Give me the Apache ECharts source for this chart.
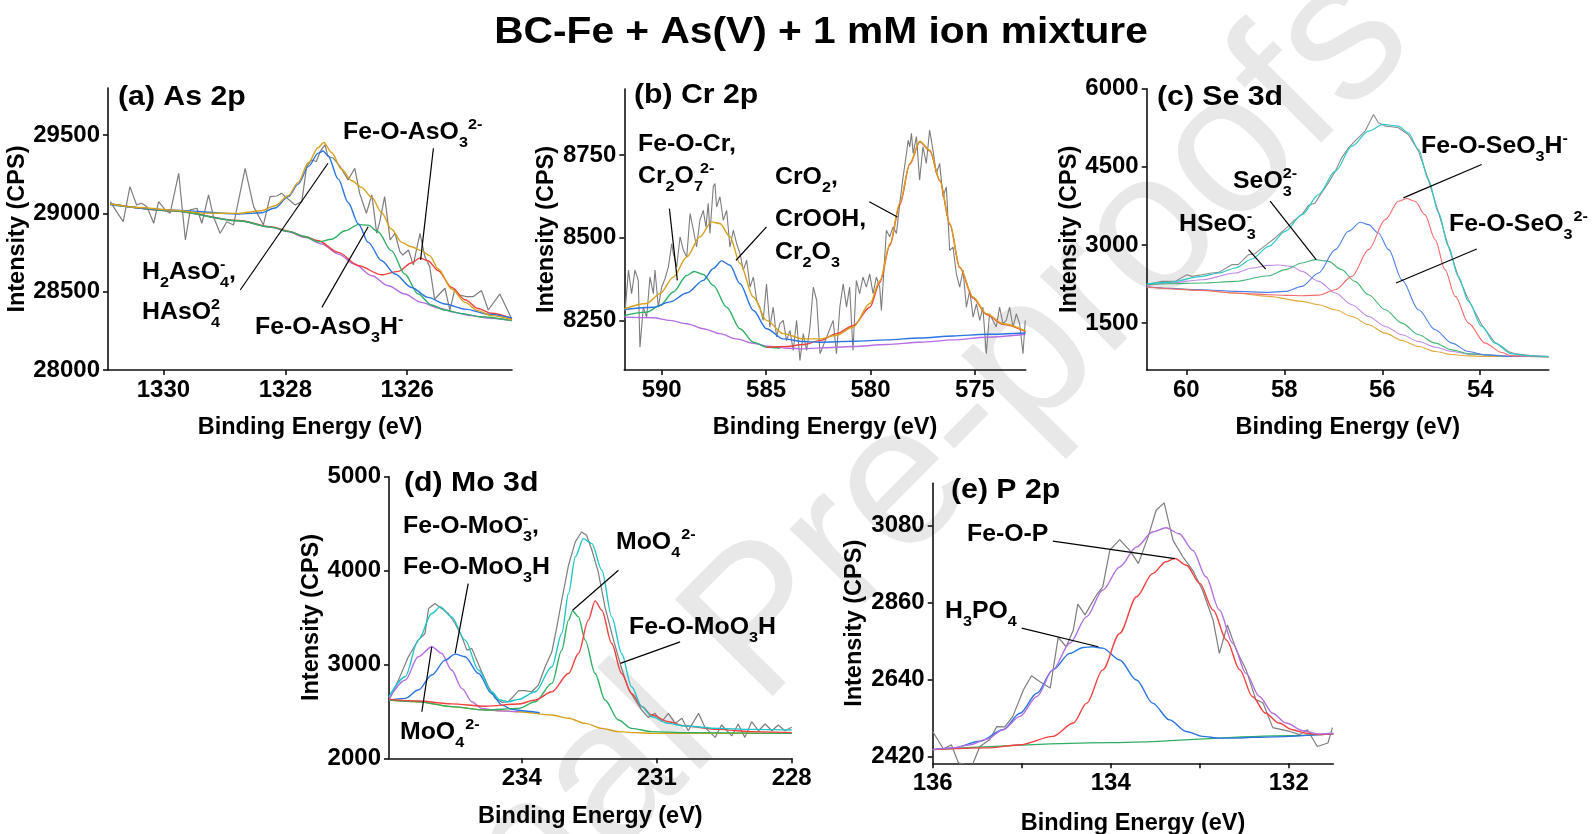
<!DOCTYPE html>
<html>
<head>
<meta charset="utf-8">
<script src="https://cdn.jsdelivr.net/npm/echarts@6.0.0/dist/echarts.min.js"></script>
<style>
  html, body { margin: 0; padding: 0; background: #fff; }
  #chart { width: 1593px; height: 834px; }
</style>
</head>
<body>
<div id="chart"></div>
<script>
// ---------- (a) As 2p ----------
const asRawE = [1330.87,1330.77,1330.66,1330.55,1330.44,1330.36,1330.27,1330.16,1330.08,1329.97,
  1329.89,1329.75,1329.64,1329.56,1329.45,1329.37,1329.26,1329.18,1329.07,1328.96,
  1328.85,1328.66,1328.52,1328.36,1328.25,1328.14,1328.06,1327.95,1327.84,1327.73,
  1327.65,1327.57,1327.49,1327.43,1327.35,1327.30,1327.21,1327.10,1326.97,1326.86,
  1326.78,1326.67,1326.58,1326.50,1326.45,1326.37,1326.28,1326.20,1326.12,1326.07,
  1325.98,1325.90,1325.79,1325.71,1325.63,1325.55,1325.46,1325.38,1325.30,1325.22,
  1325.14,1325.03,1324.92,1324.78,1324.67,1324.48,1324.29];
const asRawV = [29075,29011,28947,29171,29054,29065,29043,28937,29075,29022,
  29001,29256,28830,29022,29033,28937,29118,28979,28873,28947,
  28926,29288,29043,28926,29107,29111,29128,29090,29054,29075,
  29299,29341,29331,29394,29437,29363,29352,29299,29214,29288,
  29128,29001,29118,28873,28947,29107,28830,28873,28756,28734,
  28766,28671,28873,28724,28660,28451,28490,28522,28383,28511,
  28479,28468,28468,28507,28383,28485,28330];
const asBgE = [1330.87,1329.86,1328.77,1328.22,1327.95,1327.68,1327.40,1327.13,1326.86,1326.58,
  1326.31,1326.04,1325.77,1325.49,1325.22,1324.95,1324.67,1324.28];
const asBgV = [29060,29017,28953,28911,28883,28847,28804,28740,28676,28602,
  28538,28485,28432,28396,28368,28347,28332,28315];
const asRedE = [1330.87,1329.86,1328.77,1328.22,1327.95,1327.68,1327.46,1327.13,1326.80,1326.42,
  1326.15,1325.93,1325.79,1325.66,1325.49,1325.27,1325.05,1324.84,1324.62,1324.28];
const asRedV = [29060,29017,28955,28914,28887,28852,28825,28751,28666,28608,
  28630,28683,28715,28698,28634,28527,28449,28393,28362,28328];
const asGreenE = [1330.87,1329.86,1328.77,1328.22,1327.95,1327.68,1327.46,1327.24,1327.02,1326.80,
  1326.64,1326.48,1326.26,1326.04,1325.82,1325.60,1325.38,1325.10,1324.80,1324.28];
const asGreenV = [29060,29017,28953,28911,28885,28852,28818,28835,28889,28928,
  28925,28883,28762,28613,28485,28415,28383,28360,28340,28315];
const asBlueE = [1330.87,1329.86,1328.77,1328.39,1328.17,1327.95,1327.79,1327.62,1327.46,1327.38,
  1327.30,1327.13,1326.97,1326.80,1326.64,1326.42,1326.20,1325.93,1325.66,1325.38,
  1325.05,1324.67,1324.28];
const asBlueV = [29055,29021,28996,29004,29034,29108,29187,29300,29385,29398,
  29368,29219,29070,28932,28815,28698,28613,28527,28464,28421,
  28389,28357,28332];
const asEnvE = [1330.87,1330.41,1329.86,1329.32,1328.77,1328.39,1328.17,1327.95,1327.79,1327.62,
  1327.46,1327.37,1327.24,1327.08,1326.91,1326.75,1326.58,1326.42,1326.26,1326.09,
  1325.93,1325.77,1325.63,1325.49,1325.27,1325.05,1324.84,1324.62,1324.28];
const asEnvV = [29060,29038,29021,29002,29000,29017,29049,29113,29198,29325,
  29421,29453,29389,29283,29208,29166,29102,29006,28900,28815,
  28787,28762,28730,28645,28517,28432,28379,28347,28321];
const asLeaders = [
  [[1325.57, 29416], [1325.78, 28703]],
  [[1328.74, 28511], [1327.30, 29320]],
  [[1327.40, 28400], [1326.64, 28915]]
];
const asTickE = [1326, 1328, 1330];
const asTickV = [28000, 28500, 29000, 29500];

// ---------- (b) Cr 2p ----------
const crRawE = [591.75,591.59,591.44,591.28,591.12,591.04,590.88,590.72,590.56,590.40,
  590.32,590.16,590.00,589.84,589.68,589.52,589.44,589.28,589.12,588.96,
  588.80,588.64,588.48,588.33,588.17,588.01,587.88,587.77,587.69,587.53,
  587.45,587.37,587.21,587.05,586.89,586.73,586.57,586.41,586.25,586.09,
  585.93,585.77,585.61,585.45,585.30,585.14,584.98,584.82,584.66,584.50,
  584.34,584.18,584.02,583.86,583.70,583.54,583.38,583.22,583.06,582.90,
  582.74,582.58,582.42,582.10,581.79,581.63,581.47,581.31,581.15,581.00,
  580.84,580.68,580.52,580.36,580.20,580.04,579.88,579.72,579.56,579.48,
  579.32,579.24,579.08,578.92,578.76,578.60,578.44,578.28,578.20,578.12,
  578.04,577.96,577.80,577.65,577.49,577.33,577.17,577.01,576.85,576.69,
  576.53,576.37,576.21,576.05,575.89,575.73,575.57,575.41,575.25,575.09,
  574.93,574.77,574.62,574.46,574.30,574.14,573.98,573.82,573.66,573.50,
  573.34,573.18,573.02,572.86,572.70,572.59];
const crRawV = [8280,8402,8331,8402,8371,8169,8290,8260,8381,8331,
  8402,8290,8351,8376,8412,8482,8452,8412,8503,8462,
  8442,8573,8523,8472,8553,8583,8533,8604,8513,8654,
  8664,8593,8624,8553,8583,8472,8523,8482,8452,8402,
  8432,8351,8381,8311,8290,8250,8361,8230,8290,8200,
  8240,8250,8189,8220,8159,8250,8129,8210,8159,8230,
  8351,8311,8149,8200,8250,8149,8290,8361,8290,8351,
  8159,8371,8331,8381,8351,8391,8331,8381,8351,8280,
  8442,8523,8503,8533,8513,8604,8684,8755,8795,8775,
  8816,8755,8806,8674,8775,8725,8826,8765,8694,8725,
  8624,8654,8462,8472,8391,8351,8402,8290,8341,8260,
  8300,8250,8290,8149,8270,8250,8230,8290,8240,8250,
  8290,8230,8270,8240,8149,8250];
const crBgE = [591.79,590.40,589.60,588.80,588.01,587.21,586.41,585.61,584.82,584.02,
  583.22,582.42,580.83,579.23,577.64,576.04,574.45,572.58];
const crBgV = [8260,8258,8250,8240,8225,8210,8194,8181,8171,8166,
  8164,8167,8171,8177,8184,8191,8199,8208];
const crGreenE = [591.79,590.72,590.08,589.44,588.80,588.45,588.01,587.53,586.89,586.25,585.61,584.98,584.34];
const crGreenV = [8265,8275,8295,8336,8386,8398,8389,8356,8290,8225,8184,8169,8166];
const crBlueE = [591.79,590.40,589.60,588.80,588.01,587.53,587.13,586.73,586.25,585.61,
  584.98,584.18,583.22,582.42,580.83,579.23,577.64,576.04,574.45,572.58];
const crBlueV = [8283,8290,8306,8333,8371,8407,8430,8417,8361,8280,
  8225,8194,8186,8184,8187,8191,8197,8203,8208,8212];
const crRedE = [584.98,584.02,583.22,582.42,581.63,580.83,580.03,579.55,579.07,578.60,
  578.12,577.64,577.16,576.68,576.20,575.73,575.09,574.45,573.65,572.58];
const crRedV = [8169,8171,8177,8189,8210,8234,8290,8365,8478,8600,
  8722,8790,8763,8672,8540,8410,8318,8268,8238,8216];
const crEnvE = [591.79,590.72,590.08,589.44,588.80,588.17,587.61,587.21,586.73,586.25,
  585.61,584.98,584.18,583.22,582.42,581.63,580.83,580.03,579.55,579.07,
  578.60,578.12,577.64,577.16,576.68,576.20,575.73,575.09,574.45,573.65,572.58];
const crEnvV = [8285,8301,8331,8381,8442,8503,8548,8543,8503,8422,
  8321,8250,8210,8194,8194,8205,8230,8301,8371,8482,
  8604,8725,8792,8765,8674,8543,8412,8321,8270,8240,8218];
const crLeaders = [
  [[589.63, 8588], [589.25, 8371]],
  [[584.98, 8533], [586.44, 8432]],
  [[580.06, 8609], [578.71, 8563]]
];
const crTickE = [575, 580, 585, 590];
const crTickV = [8250, 8500, 8750];

// ---------- (c) Se 3d ----------
const seRawE = [60.81,60.50,60.23,59.99,59.89,59.68,59.48,59.34,59.07,58.94,
  58.73,58.60,58.39,58.19,57.98,57.78,57.64,57.51,57.37,57.24,
  57.10,56.96,56.83,56.69,56.56,56.35,56.18,56.08,55.94,55.81,
  55.67,55.47,55.26,55.06,54.85,54.65,54.45,54.24,53.97,53.70,
  53.56,53.43,53.29,53.00,52.80,52.60];
const seRawV = [2237,2301,2301,2429,2397,2429,2462,2474,2622,2622,
  2814,2833,2987,3135,3308,3487,3583,3756,3808,4000,
  4192,4417,4673,4865,4993,5186,5506,5346,5282,5269,
  5250,5122,4801,4256,3615,2974,2397,1949,1468,1128,
  1051,955,910,880,866,860];
const seBgE = [60.81,60.36,59.68,59.00,58.32,57.64,57.30,56.96,56.62,56.28,55.94,55.60,55.26,54.92,54.58,54.24,53.90,53.36,52.60];
const seBgV = [2192,2167,2128,2077,2013,1917,1853,1756,1628,1468,1308,1167,1051,955,897,872,859,859,855];
const sePurpleE = [60.81,60.36,59.68,59.00,58.66,58.32,58.12,57.85,57.64,57.30,56.96,56.62,56.28,55.94,55.60,55.26,54.92,54.58,54.24,53.36,52.60];
const sePurpleV = [2218,2269,2333,2462,2558,2609,2615,2590,2494,2301,2077,1853,1628,1436,1276,1147,1038,955,904,872,858];
const seGreenE = [60.81,60.36,59.68,59.00,58.32,57.98,57.64,57.37,57.10,56.83,56.56,56.28,55.94,55.60,55.26,54.92,54.58,54.24,53.36,52.60];
const seGreenV = [2237,2256,2269,2301,2410,2526,2654,2718,2686,2526,2301,2045,1756,1500,1276,1115,987,910,859,855];
const seBlueE = [60.81,59.68,59.00,58.32,57.98,57.64,57.30,56.96,56.69,56.45,56.28,56.08,55.87,55.60,55.26,54.92,54.58,54.24,53.90,53.36,52.60];
const seBlueV = [2192,2141,2109,2090,2109,2205,2462,2910,3263,3436,3391,3231,2910,2333,1756,1372,1115,955,891,859,855];
const seRedE = [60.81,59.68,59.00,58.32,57.98,57.64,57.30,56.96,56.62,56.28,55.94,55.67,55.50,55.33,55.13,54.92,54.72,54.51,54.24,53.90,53.56,53.36,52.60];
const seRedV = [2192,2128,2077,2045,2032,2026,2038,2141,2397,2910,3487,3840,3891,3840,3583,3103,2526,2013,1500,1115,936,872,855];
const seEnvE = [60.81,60.36,59.68,59.34,59.00,58.66,58.32,57.98,57.64,57.30,
  56.96,56.62,56.28,55.98,55.67,55.47,55.26,55.06,54.85,54.65,
  54.45,54.24,53.97,53.70,53.36,52.98,52.60];
const seEnvV = [2256,2282,2397,2462,2558,2731,2974,3263,3583,3968,
  4417,4897,5186,5314,5282,5154,4833,4256,3615,2974,
  2397,1917,1436,1115,910,870,859];
const seLeaders = [
  [[58.73, 2910], [58.38, 2538]],
  [[58.29, 3840], [57.35, 2718]],
  [[53.97, 4545], [55.57, 3904]],
  [[54.07, 2923], [55.72, 2269]]
];
const seTickE = [54, 56, 58, 60];
const seTickV = [1500, 3000, 4500, 6000];

// ---------- (d) Mo 3d ----------
const moRawE = [236.93,236.74,236.52,236.30,236.15,236.07,235.93,235.78,235.63,235.48,
  235.33,235.22,235.11,235.00,234.89,234.74,234.59,234.44,234.30,234.19,
  234.07,233.93,233.78,233.63,233.48,233.33,233.22,233.11,232.96,232.81,
  232.67,232.56,232.44,232.30,232.15,231.96,231.78,231.63,231.48,231.33,
  231.19,231.04,230.89,230.74,230.59,230.44,230.30,230.07,229.93,229.70,
  229.56,229.33,229.19,229.04,228.89,228.74,228.59,228.44,228.30,228.15,228.00];
const moRawV = [2638,2833,3082,3259,3330,3596,3649,3596,3543,3436,
  3294,3152,3170,3046,2922,2762,2638,2596,2603,2656,
  2720,2720,2709,2780,2975,3135,3401,3684,4057,4305,
  4411,4376,4216,3986,3613,3259,2957,2745,2621,2514,
  2436,2479,2390,2479,2372,2426,2294,2479,2330,2223,
  2355,2238,2365,2223,2390,2294,2365,2294,2355,2294,2330];
const moBgE = [236.95,236.30,235.56,234.81,234.07,233.33,232.96,232.59,232.22,231.85,231.48,231.11,229.63,228.00];
const moBgV = [2621,2603,2550,2514,2496,2461,2426,2372,2319,2284,2273,2266,2266,2266];
const moPurpleE = [236.95,236.59,236.30,236.00,235.78,235.56,235.33,235.11,234.89,234.50,234.07];
const moPurpleV = [2638,2833,3082,3188,3117,2940,2745,2603,2532,2505,2496];
const moBlueE = [236.95,236.59,236.30,236.00,235.70,235.48,235.26,234.96,234.67,234.44,234.22,233.93,233.60];
const moBlueV = [2621,2638,2727,2887,3046,3110,3082,2904,2691,2567,2521,2504,2485];
const moRedE = [236.95,236.30,235.56,234.81,234.07,233.70,233.33,232.96,232.74,232.52,
  232.37,232.22,232.00,231.78,231.56,231.33,231.11,230.74,230.37,229.63,228.89,228.00];
const moRedV = [2628,2610,2580,2555,2578,2621,2709,2904,3117,3472,
  3677,3578,3223,2904,2691,2550,2461,2390,2344,2308,2284,2273];
const moGreenE = [236.95,236.30,235.56,234.81,234.07,233.70,233.33,233.11,232.96,232.87,
  232.74,232.59,232.37,232.15,231.85,231.56,231.11,230.37,228.00];
const moGreenV = [2621,2603,2550,2514,2532,2603,2798,3152,3472,3571,
  3507,3259,2904,2621,2408,2319,2284,2273,2266];
const moEnvE = [236.95,236.59,236.30,236.00,235.81,235.56,235.26,234.96,234.67,234.48,
  234.30,234.07,233.70,233.33,233.11,232.96,232.81,232.63,232.44,232.22,
  232.00,231.78,231.56,231.33,231.11,230.74,230.37,229.63,228.89,228.00];
const moEnvV = [2656,2869,3259,3543,3613,3507,3259,2940,2709,2621,
  2603,2628,2709,2975,3330,3755,4145,4340,4287,4004,
  3507,3117,2762,2550,2443,2372,2344,2319,2308,2301];
const moLeaders = [
  [[235.19, 3862], [235.48, 3117]],
  [[236.22, 2496], [236.00, 3188]],
  [[231.85, 4003], [232.87, 3578]],
  [[230.48, 3241], [231.81, 3011]]
];
const moTickE = [228, 231, 234];
const moTickV = [2000, 3000, 4000, 5000];

// ---------- (e) P 2p ----------
const pRawE = [136.00,135.88,135.79,135.71,135.56,135.47,135.36,135.28,135.19,135.10,
  134.98,134.89,134.80,134.68,134.59,134.50,134.42,134.37,134.29,134.16,
  134.09,134.01,133.90,133.79,133.69,133.58,133.49,133.40,133.30,133.19,
  133.08,132.97,132.85,132.78,132.69,132.59,132.48,132.37,132.29,132.18,
  131.99,131.88,131.79,131.68,131.56,131.51];
const pRawV = [2491,2441,2453,2401,2392,2448,2467,2505,2504,2534,
  2610,2650,2634,2615,2760,2733,2781,2855,2824,2881,
  2904,3009,3039,3009,2971,3047,3123,3144,3037,2990,
  2952,2895,2809,2714,2795,2724,2667,2582,2573,2502,
  2491,2482,2496,2448,2458,2502];
const pBgE = [136.0, 134.0, 132.0, 131.5];
const pBgV = [2439, 2459, 2479, 2484];
const pRedE = [136.00,135.39,135.02,134.65,134.42,134.27,134.09,133.90,133.71,133.53,
  133.38,133.28,133.15,133.00,132.85,132.70,132.55,132.41,132.26,132.11,131.96,131.81,131.66,131.50];
const pRedV = [2439,2444,2453,2477,2515,2572,2667,2771,2876,2942,
  2976,2985,2966,2914,2838,2752,2667,2591,2543,2515,2496,2486,2482,2484];
const pBlueE = [136.00,135.77,135.47,135.21,135.02,134.83,134.65,134.46,134.31,134.20,
  134.09,133.90,133.71,133.53,133.34,133.15,132.97,132.78,132.59,132.41,131.50];
const pBlueV = [2439,2444,2463,2496,2543,2600,2667,2714,2731,2733,
  2729,2695,2638,2572,2524,2491,2477,2472,2472,2474,2484];
const pEnvE = [136.00,135.77,135.58,135.39,135.21,135.02,134.83,134.65,134.46,134.27,
  134.09,133.90,133.71,133.53,133.38,133.23,133.08,132.93,132.78,132.63,
  132.48,132.33,132.18,132.03,131.84,131.66,131.50];
const pEnvV = [2439,2444,2453,2469,2496,2534,2591,2667,2743,2819,
  2895,2961,3018,3061,3073,3056,3009,2933,2838,2743,
  2657,2591,2543,2515,2493,2484,2486];
const pLeaders = [
  [[134.65, 3035], [133.28, 2985]],
  [[135.00, 2786], [134.14, 2733]]
];
const pTickE = [132, 133, 134, 135, 136];
const pLabelE = [132, 134, 136];
const pTickV = [2420, 2640, 2860, 3080];

// ---------- layout ----------
const FONT = '"Liberation Sans", Arial, Helvetica, sans-serif';
const SX = 1.08; // the source figure is slightly stretched sideways
const GRAY = '#7d7d7d', PURPLE = '#b56de4', RED = '#f0413f', GREEN = '#2faf63',
      BLUE = '#2a74e0', GOLD = '#d6a11c', CYAN = '#1fc6cc';

const zip = (xs, ys) => xs.slice(0, Math.min(xs.length, ys.length)).map((x, i) => [x, ys[i]]);

const panels = [
  { grid: { left: 108, top: 88.1, width: 404, height: 281.9 }, x: [1324.28, 1330.91], y: [28000, 29800],
    xt: asTickE, xl: asTickE, yt: asTickV, yGap: 75, xGap: 46,
    curves: [[asRawE, asRawV, GRAY, 1.2, false], [asBgE, asBgV, PURPLE], [asRedE, asRedV, RED],
             [asGreenE, asGreenV, GREEN], [asBlueE, asBlueV, BLUE], [asEnvE, asEnvV, GOLD]],
    leaders: asLeaders },
  { grid: { left: 624.3, top: 89, width: 401.4, height: 281 }, x: [572.57, 591.79], y: [8100, 8950],
    xt: crTickE, xl: crTickE, yt: crTickV, yGap: 64, xGap: 46,
    curves: [[crRawE, crRawV, GRAY, 1.1, false], [crBgE, crBgV, PURPLE], [crGreenE, crGreenV, GREEN],
             [crRedE, crRedV, RED], [crBlueE, crBlueV, BLUE], [crEnvE, crEnvV, GOLD]],
    leaders: crLeaders },
  { grid: { left: 1146.7, top: 88.7, width: 402.1, height: 281.3 }, x: [52.6, 60.81], y: [600, 6000],
    xt: seTickE, xl: seTickE, yt: seTickV, yGap: 61, xGap: 46,
    curves: [[seRawE, seRawV, '#8a8a8a', 1.1, false], [seBgE, seBgV, '#e0a83c', 1.1], [sePurpleE, sePurpleV, '#c08ae8', 1.1],
             [seGreenE, seGreenV, '#45b579', 1.1], [seBlueE, seBlueV, '#4e7fe6', 1.1], [seRedE, seRedV, '#f26b6b', 1.1],
             [seEnvE, seEnvV, '#2ec8c8', 1.2]],
    leaders: seLeaders },
  { grid: { left: 389, top: 476.7, width: 402.7, height: 281.6 }, x: [228, 236.95], y: [2000, 5000],
    xt: moTickE, xl: moTickE, yt: moTickV, yGap: 64, xGap: 46,
    curves: [[moRawE, moRawV, GRAY, 1.2, false], [moBgE, moBgV, GOLD], [moPurpleE, moPurpleV, PURPLE],
             [moBlueE, moBlueV, BLUE], [moGreenE, moGreenV, GREEN], [moRedE, moRedV, RED], [moEnvE, moEnvV, CYAN]],
    leaders: moLeaders },
  { grid: { left: 932.7, top: 483.3, width: 400.6, height: 280 }, x: [131.5, 136], y: [2400, 3200],
    xt: pTickE, xl: pLabelE, yt: pTickV, yGap: 66, xGap: 48,
    curves: [[pRawE, pRawV, GRAY, 1.2, false], [pBgE, pBgV, GREEN], [pBlueE, pBlueV, BLUE],
             [pRedE, pRedV, RED], [pEnvE, pEnvV, '#b26fe0']],
    leaders: pLeaders }
];

const tickFont = { color: '#000', fontSize: 24, fontWeight: 'bold', fontFamily: FONT };
const nameFont = { color: '#000', fontSize: 23.5, fontWeight: 'bold', fontFamily: FONT };
const axisLine = { show: true, onZero: false, lineStyle: { color: '#111', width: 1.6 } };
const plain = v => String(v);

const grid = [], xAxis = [], yAxis = [], series = [];
panels.forEach((p, i) => {
  grid.push(Object.assign({ containLabel: false, outerBoundsMode: 'none' }, p.grid));
  xAxis.push({
    gridIndex: i, type: 'value', inverse: true, min: p.x[0], max: p.x[1],
    axisLine, splitLine: { show: false },
    axisTick: { show: true, length: 5, customValues: p.xt, lineStyle: { color: '#111', width: 1.6 } },
    axisLabel: Object.assign({ customValues: p.xl, margin: 8, formatter: plain }, tickFont),
    name: 'Binding Energy (eV)', nameLocation: 'middle', nameGap: p.xGap, nameTextStyle: nameFont
  });
  yAxis.push({
    gridIndex: i, type: 'value', min: p.y[0], max: p.y[1],
    axisLine, splitLine: { show: false },
    axisTick: { show: true, length: 5, customValues: p.yt, lineStyle: { color: '#111', width: 1.6 } },
    axisLabel: Object.assign({ customValues: p.yt, margin: 8, formatter: plain }, tickFont),
    name: 'Intensity (CPS)', nameLocation: 'middle', nameRotate: 90, nameGap: p.yGap, nameTextStyle: nameFont
  });
  p.curves.forEach(([E, V, color, width, smooth], k) => {
    series.push({
      type: 'line', xAxisIndex: i, yAxisIndex: i, data: zip(E, V),
      showSymbol: false, symbol: 'none', silent: true, animation: false,
      smooth: smooth === false ? false : 0.3, smoothMonotone: 'x',
      lineStyle: { color, width: width || 1.4 }, z: 2 + k * 0.01
    });
  });
  p.leaders.forEach(seg => {
    series.push({
      type: 'line', xAxisIndex: i, yAxisIndex: i, data: seg,
      showSymbol: false, symbol: 'none', silent: true, animation: false,
      lineStyle: { color: '#000', width: 1.2 }, z: 4
    });
  });
});

// ---------- text: titles and species labels ----------
const mctx = document.createElement('canvas').getContext('2d');
const textW = (t, size) => { mctx.font = 'bold ' + size + 'px ' + FONT; return mctx.measureText(t).width; };

function txt(x, y, text, size, extra) {
  return Object.assign({
    type: 'text', x, y, z: 50, scaleX: SX, silent: true,
    style: { text, font: 'bold ' + size + 'px ' + FONT, fill: '#000', align: 'left', verticalAlign: 'middle' }
  }, extra || {});
}
// parts: plain strings, or {sub, sup, shift} for indices
function chem(x, y, parts) {
  const out = []; let cx = x;
  parts.forEach(p => {
    if (typeof p === 'string') { out.push(txt(cx, y, p, 23)); cx += textW(p, 23) * SX; return; }
    let w = 0;
    if (p.sub) { out.push(txt(cx, y + 10, p.sub, 15)); w = textW(p.sub, 15) * SX; }
    if (p.sup) { const s = p.shift || 0; out.push(txt(cx + s, y - 8, p.sup, 15)); w = Math.max(w, s + textW(p.sup, 15) * SX); }
    cx += w;
  });
  return out;
}

const graphic = [
  { type: 'text', x: 800, y: 590, rotation: 0.79, z: -1, silent: true,
    style: { text: 'Journal Pre-proofs', font: '200px ' + FONT, fill: '#e8e8e8', align: 'center', verticalAlign: 'middle' } },
  { type: 'text', x: 821, y: 33, z: 50, scaleX: 1.1, silent: true,
    style: { text: 'BC-Fe + As(V) + 1 mM ion mixture', font: 'bold 37px ' + FONT, fill: '#000', align: 'center', verticalAlign: 'middle' } },
  txt(118, 97, '(a) As 2p', 28),
  txt(634, 95, '(b) Cr 2p', 28),
  txt(1157, 97, '(c) Se 3d', 28),
  txt(404, 483, '(d) Mo 3d', 28),
  txt(951, 490, '(e) P 2p', 28),
  ...chem(343, 133, ['Fe-O-AsO', { sub: '3' }, { sup: '2-' }]),
  ...chem(142, 273, ['H', { sub: '2' }, 'AsO', { sub: '4', sup: '-' }, ',']),
  ...chem(142, 313, ['HAsO', { sup: '2', sub: '4' }]),
  ...chem(255, 328, ['Fe-O-AsO', { sub: '3' }, 'H', { sup: '-' }]),
  ...chem(638, 145, ['Fe-O-Cr,']),
  ...chem(638, 177, ['Cr', { sub: '2' }, 'O', { sub: '7', sup: '2-', shift: 6 }]),
  ...chem(775, 178, ['CrO', { sub: '2' }, ',']),
  ...chem(775, 220, ['CrOOH,']),
  ...chem(775, 253, ['Cr', { sub: '2' }, 'O', { sub: '3' }]),
  ...chem(1421, 147, ['Fe-O-SeO', { sub: '3' }, 'H', { sup: '-' }]),
  ...chem(1233, 182, ['SeO', { sup: '2-', sub: '3' }]),
  ...chem(1179, 225, ['HSeO', { sup: '-', sub: '3' }]),
  ...chem(1449, 225, ['Fe-O-SeO', { sub: '3', sup: '2-', shift: 10 }]),
  ...chem(403, 527, ['Fe-O-MoO', { sub: '3', sup: '-' }, ',']),
  ...chem(403, 568, ['Fe-O-MoO', { sub: '3' }, 'H']),
  ...chem(400, 733, ['MoO', { sub: '4', sup: '2-', shift: 10 }]),
  ...chem(616, 543, ['MoO', { sub: '4', sup: '2-', shift: 10 }]),
  ...chem(629, 628, ['Fe-O-MoO', { sub: '3' }, 'H']),
  ...chem(967, 535, ['Fe-O-P']),
  ...chem(945, 612, ['H', { sub: '3' }, 'PO', { sub: '4' }])
];

const chart = echarts.init(document.getElementById('chart'), null, { renderer: 'canvas' });
chart.setOption({
  backgroundColor: '#fff',
  animation: false,
  grid, xAxis, yAxis, series, graphic
});
</script>
</body>
</html>
